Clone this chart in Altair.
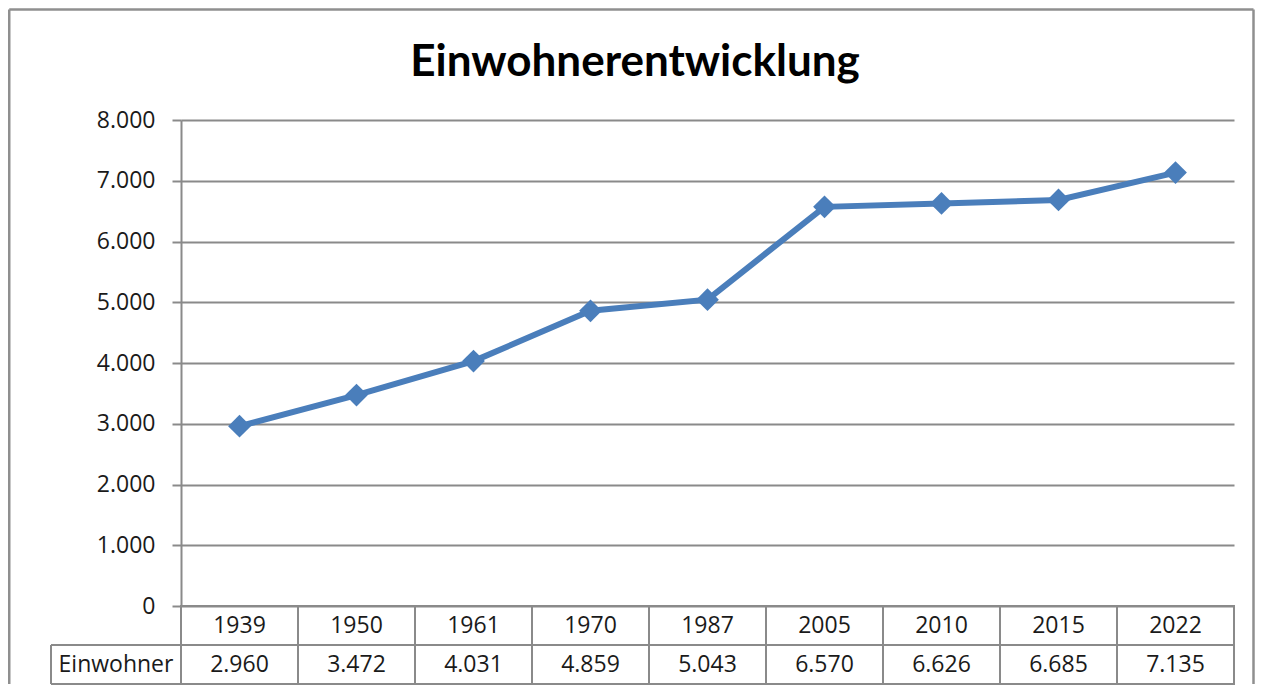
import altair as alt
import pandas as pd

years = ["1939", "1950", "1961", "1970", "1987", "2005", "2010", "2015", "2022"]
einwohner = [2960, 3472, 4031, 4859, 5043, 6570, 6626, 6685, 7135]
y_ticks = [0, 1000, 2000, 3000, 4000, 5000, 6000, 7000, 8000]
title_text = "Einwohnerentwicklung"
row_names = ["Jahr", "Einwohner"]

FONT = "Open Sans"
GREY = "#8a8a8a"
BLUE = "#4a7ebb"
W, H, TH = 1053, 486, 78
FT = -110.5  # frame top relative to plot top
FR = 1072.5  # frame right relative to plot left


def de(v):
    return f"{v:,}".replace(",", ".")


df = pd.DataFrame({"Jahr": years, "Einwohner": einwohner})
table_rows = []
for y, v in zip(years, einwohner):
    table_rows.append({"Jahr": y, "row": row_names[0], "label": y})
    table_rows.append({"Jahr": y, "row": row_names[1], "label": de(v)})
tdf = pd.DataFrame(table_rows)

x_pt = alt.X("Jahr:O", sort=years, axis=None,
             scale=alt.Scale(type="point", padding=0.5))

line = alt.Chart(df).mark_line(
    color=BLUE, strokeWidth=6,
    point=alt.OverlayMarkDef(shape="diamond", size=520, filled=True,
                             color=BLUE, opacity=1),
).encode(
    x=x_pt,
    y=alt.Y("Einwohner:Q", title=None,
            scale=alt.Scale(domain=[0, 8000], nice=False),
            axis=alt.Axis(values=y_ticks,
                          labelExpr="replace(format(datum.value, ',d'), ',', '.')",
                          labelFont=FONT, labelFontSize=23, labelColor="#1a1a1a",
                          labelPadding=17, tickSize=9, tickColor=GREY, tickWidth=2,
                          domainColor=GREY, domainWidth=2,
                          grid=True, gridColor=GREY, gridWidth=2)),
)

title_df = pd.DataFrame({"t": [title_text]})
title = alt.Chart(title_df).mark_text(
    font="Lato", fontSize=44, fontWeight="bold", color="#000000",
    align="center", baseline="alphabetic",
).encode(x=alt.value(454), y=alt.value(-44), text="t:N")

frame = alt.Chart(title_df).mark_rule(color="#8f8f8f", strokeWidth=2.5)
frame_left = frame.encode(x=alt.value(-171.75), y=alt.value(FT), y2=alt.value(H + TH))
frame_top = frame.encode(x=alt.value(-171.75), x2=alt.value(FR), y=alt.value(FT))
frame_right = frame.encode(x=alt.value(FR), y=alt.value(FT), y2=alt.value(H + TH))

top = alt.layer(line, title, frame_left, frame_top, frame_right).properties(
    width=W, height=H,
    view=alt.ViewBackground(strokeWidth=0),
)

x_band = alt.Scale(type="band", paddingInner=0, paddingOuter=0)
y_band = alt.Scale(type="band", paddingInner=0, paddingOuter=0)

cells = alt.Chart(tdf).mark_text(font=FONT, fontSize=23, color="#1a1a1a",
                                 align="center", baseline="middle").encode(
    x=alt.X("Jahr:O", sort=years, axis=None, scale=x_band, bandPosition=0.5),
    y=alt.Y("row:N", sort=row_names, axis=None, scale=y_band, bandPosition=0.5),
    text="label:N",
)

sep_v = alt.Chart(tdf).mark_rule(color=GREY, strokeWidth=2).encode(
    x=alt.X("Jahr:O", sort=years, axis=None, scale=x_band, bandPosition=0),
)
sep_h = alt.Chart(tdf).mark_rule(color=GREY, strokeWidth=2).encode(
    y=alt.Y("row:N", sort=row_names, axis=None, scale=y_band, bandPosition=0),
)

head_df = pd.DataFrame({"row": [row_names[1]], "label": [row_names[1]]})
head_text = alt.Chart(head_df).mark_text(font=FONT, fontSize=23, color="#1a1a1a",
                                         align="center", baseline="middle").encode(
    x=alt.value(-65),
    y=alt.Y("row:N", sort=row_names, axis=None, scale=y_band, bandPosition=0.5),
    text="label:N",
)
hbox = alt.Chart(head_df).mark_rule(color=GREY, strokeWidth=2)
hbox_top = hbox.encode(x=alt.value(-130), x2=alt.value(0), y=alt.value(TH / 2))
hbox_bot = hbox.encode(x=alt.value(-130), x2=alt.value(0), y=alt.value(TH))
hbox_left = hbox.encode(x=alt.value(-130), y=alt.value(TH / 2), y2=alt.value(TH))

table = alt.layer(sep_v, sep_h, cells, head_text, hbox_top, hbox_bot, hbox_left).properties(
    width=W, height=TH,
    view=alt.ViewBackground(stroke=GREY, strokeWidth=2),
)

chart = alt.vconcat(top, table, spacing=0, bounds="flush").properties(
    padding=0, background="white"
).configure_view(strokeWidth=0)

chart.save("out.html", embed_options={"renderer": "svg", "actions": False})
